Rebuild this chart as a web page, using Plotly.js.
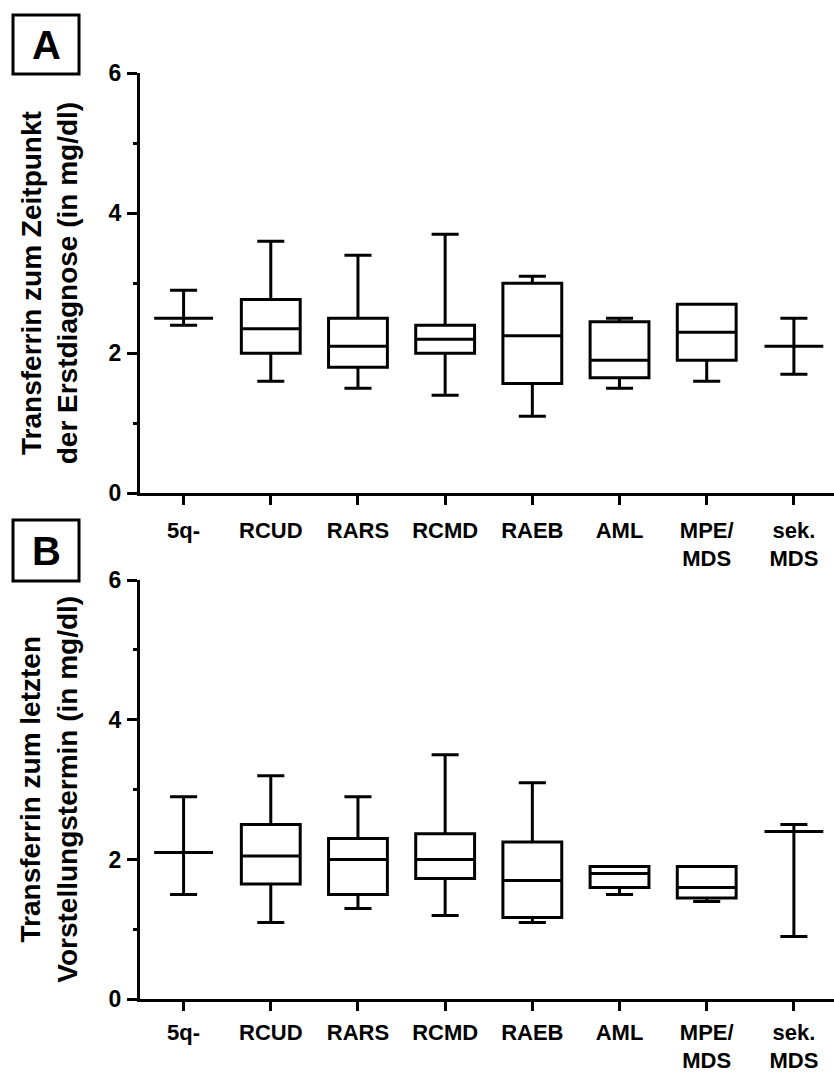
<!DOCTYPE html>
<html>
<head>
<meta charset="utf-8">
<script src="https://cdn.plot.ly/plotly-3.0.1.min.js"></script>
<style>html,body{margin:0;padding:0;background:#fff;}#chart{width:834px;height:1075px;}</style>
</head>
<body>
<div id="chart"></div>
<script>
// Categories and tick labels
const categories = ['5q-', 'RCUD', 'RARS', 'RCMD', 'RAEB', 'AML', 'MPE/MDS', 'sek. MDS'];
const tickLabels = ['5q-', 'RCUD', 'RARS', 'RCMD', 'RAEB', 'AML', 'MPE/<br>MDS', 'sek.<br>MDS'];
const yMajorTicks = [0, 2, 4, 6];
const yMinorTicks = [1, 3, 5];

// Panel A: Transferrin at first diagnosis (mg/dl)
const aLower  = [2.4, 1.6, 1.5, 1.4, 1.1, 1.5, 1.6, 1.7];
const aQ1     = [2.5, 2.0, 1.8, 2.0, 1.57, 1.65, 1.9, 2.1];
const aMedian = [2.5, 2.35, 2.1, 2.2, 2.25, 1.9, 2.3, 2.1];
const aQ3     = [2.5, 2.77, 2.5, 2.4, 3.0, 2.45, 2.7, 2.1];
const aUpper  = [2.9, 3.6, 3.4, 3.7, 3.1, 2.5, 2.7, 2.5];

// Panel B: Transferrin at last visit (mg/dl)
const bLower  = [1.5, 1.1, 1.3, 1.2, 1.1, 1.5, 1.4, 0.9];
const bQ1     = [2.1, 1.65, 1.5, 1.73, 1.17, 1.6, 1.45, 2.4];
const bMedian = [2.1, 2.05, 2.0, 2.0, 1.7, 1.8, 1.6, 2.4];
const bQ3     = [2.1, 2.5, 2.3, 2.37, 2.25, 1.9, 1.9, 2.4];
const bUpper  = [2.9, 3.2, 2.9, 3.5, 3.1, 1.9, 1.9, 2.5];

const W = 834, H = 1075;
const px = v => v / W;
const py = v => 1 - v / H;

// panel pixel extents (top = value 6, bottom = value 0)
const A_TOP = 73.3, A_BOT = 493.3;
const B_TOP = 580, B_BOT = 999.3;

const boxStyle = {
  type: 'box',
  boxpoints: false,
  width: 0.675,
  whiskerwidth: 0.46,
  fillcolor: 'rgba(255,255,255,0)',
  line: {color: '#000', width: 3},
  hoverinfo: 'skip',
  showlegend: false
};

const traces = [
  Object.assign({}, boxStyle, {
    x: categories, lowerfence: aLower, q1: aQ1, median: aMedian, q3: aQ3, upperfence: aUpper,
    xaxis: 'x', yaxis: 'y'
  }),
  Object.assign({}, boxStyle, {
    x: categories, lowerfence: bLower, q1: bQ1, median: bMedian, q3: bQ3, upperfence: bUpper,
    xaxis: 'x2', yaxis: 'y2'
  })
];

const tickFont = {family: 'Liberation Sans, Arial, sans-serif', size: 22, color: '#000', weight: 700};
const yTickFont = {family: 'Liberation Sans, Arial, sans-serif', size: 23, color: '#000', weight: 700};

function xAxis(anchor, standoff) {
  return {
    type: 'category',
    domain: [px(140), 1],
    range: [-0.5, 7.46],
    anchor: anchor,
    showline: true, linecolor: '#000', linewidth: 3,
    showgrid: false, zeroline: false,
    ticks: 'outside', ticklen: 9, tickwidth: 3, tickcolor: '#000',
    tickmode: 'array', tickvals: categories, ticktext: tickLabels,
    tickfont: tickFont,
    ticklabelstandoff: standoff,
    tickangle: 0,
    fixedrange: true
  };
}
function yAxis(anchor, top, bottom) {
  return {
    domain: [py(bottom), py(top)],
    range: [0, 6],
    anchor: anchor,
    showline: true, linecolor: '#000', linewidth: 3,
    showgrid: false, zeroline: false,
    ticks: 'outside', ticklen: 10, tickwidth: 3, tickcolor: '#000',
    tickmode: 'array', tickvals: yMajorTicks,
    tickfont: yTickFont,
    ticklabelstandoff: 1,
    fixedrange: true
  };
}
// Overlay axis carrying only the short (minor) ticks at odd values
function yMinorAxis(base, anchor, top, bottom) {
  return {
    overlaying: base,
    domain: [py(bottom), py(top)],
    range: [0, 6],
    anchor: anchor,
    side: 'left',
    showline: false, showgrid: false, zeroline: false,
    ticks: 'outside', ticklen: 6, tickwidth: 3, tickcolor: '#000',
    tickmode: 'array', tickvals: yMinorTicks,
    showticklabels: false,
    fixedrange: true
  };
}

const titleFont = {family: 'Liberation Sans, Arial, sans-serif', size: 28, color: '#000', weight: 700};
const letterFont = {family: 'Liberation Sans, Arial, sans-serif', size: 40, color: '#000', weight: 700};

const layout = {
  width: W, height: H,
  margin: {l: 0, r: 0, t: 0, b: 0},
  paper_bgcolor: '#fff', plot_bgcolor: '#fff',
  xaxis: xAxis('y', 6),
  yaxis: yAxis('x', A_TOP, A_BOT),
  xaxis2: xAxis('y2', 2),
  yaxis2: yAxis('x2', B_TOP, B_BOT),
  yaxis3: yMinorAxis('y', 'x', A_TOP, A_BOT),
  yaxis4: yMinorAxis('y2', 'x2', B_TOP, B_BOT),
  shapes: [
    {type: 'rect', xref: 'paper', yref: 'paper', x0: px(13), x1: px(79), y0: py(15), y1: py(74), line: {color: '#000', width: 3}},
    {type: 'rect', xref: 'paper', yref: 'paper', x0: px(13), x1: px(79), y0: py(520), y1: py(581), line: {color: '#000', width: 3}}
  ],
  annotations: [
    {text: 'A', xref: 'paper', yref: 'paper', x: px(46), y: py(45), xanchor: 'center', yanchor: 'middle', showarrow: false, font: letterFont},
    {text: 'B', xref: 'paper', yref: 'paper', x: px(46), y: py(551), xanchor: 'center', yanchor: 'middle', showarrow: false, font: letterFont},
    {text: 'Transferrin zum Zeitpunkt<br>der Erstdiagnose (in mg/dl)', xref: 'paper', yref: 'paper',
     x: px(49), y: py((A_TOP + A_BOT) / 2), xanchor: 'center', yanchor: 'middle', textangle: -90, showarrow: false, font: titleFont},
    {text: 'Transferrin zum letzten<br>Vorstellungstermin (in mg/dl)', xref: 'paper', yref: 'paper',
     x: px(49), y: py((B_TOP + B_BOT) / 2), xanchor: 'center', yanchor: 'middle', textangle: -90, showarrow: false, font: titleFont}
  ]
};

// Invisible helper traces so the overlay tick axes are drawn
traces.push({type: 'scatter', x: [categories[0]], y: [0], xaxis: 'x', yaxis: 'y3', mode: 'markers',
             marker: {opacity: 0}, hoverinfo: 'skip', showlegend: false});
traces.push({type: 'scatter', x: [categories[0]], y: [0], xaxis: 'x2', yaxis: 'y4', mode: 'markers',
             marker: {opacity: 0}, hoverinfo: 'skip', showlegend: false});

Plotly.newPlot('chart', traces, layout, {displayModeBar: false, staticPlot: true});
</script>
</body>
</html>
